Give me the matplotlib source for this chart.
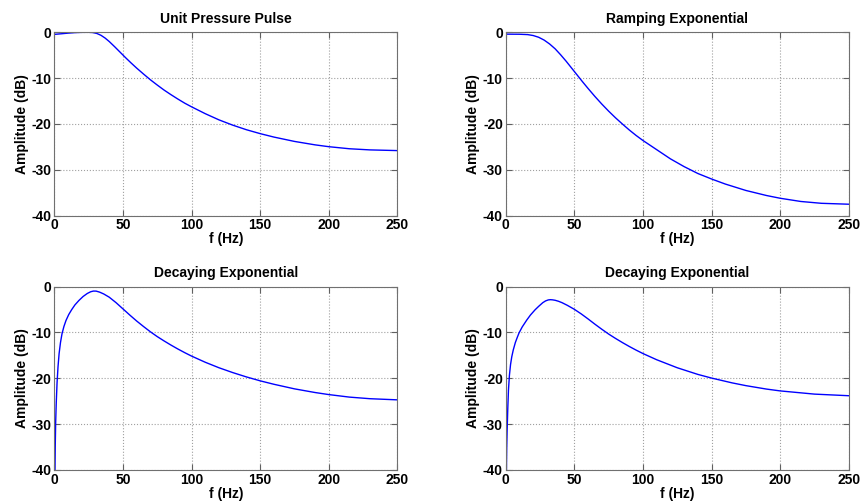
import matplotlib
matplotlib.use('Agg')
import matplotlib.pyplot as plt

plt.rcParams['font.family'] = ['Liberation Sans', 'DejaVu Sans']
plt.rcParams['font.weight'] = 'bold'
plt.rcParams['axes.unicode_minus'] = False

# values (f in Hz, amplitude in dB)
pulse_f = [0, 5, 10, 15, 20, 25, 28, 31, 34, 37, 40, 44, 48, 52, 56, 60, 65, 70, 75, 80, 85,
           90, 95, 100, 110, 120, 130, 140, 150, 160, 175, 190, 200, 215, 230, 250]
pulse_db = [-0.45, -0.32, -0.18, -0.07, -0.01, 0.0, -0.05, -0.25, -0.65, -1.25, -2.0, -3.15,
            -4.35, -5.55, -6.7, -7.8, -9.1, -10.35, -11.5, -12.6, -13.6, -14.55, -15.45,
            -16.25, -17.75, -19.1, -20.25, -21.25, -22.1, -22.85, -23.8, -24.55, -24.95,
            -25.4, -25.65, -25.8]

ramp_f = [0, 10, 16, 20, 24, 28, 32, 36, 40, 44, 48, 52, 56, 60, 65, 70, 75, 80, 85, 90, 95,
          100, 110, 120, 130, 140, 150, 160, 175, 190, 200, 215, 230, 250]
ramp_db = [-0.4, -0.42, -0.5, -0.7, -1.08, -1.7, -2.55, -3.6, -4.9, -6.3, -7.8, -9.3, -10.8,
           -12.25, -14.0, -15.65, -17.2, -18.65, -20.0, -21.3, -22.5, -23.6, -25.6, -27.6,
           -29.3, -30.8, -32.0, -33.1, -34.5, -35.6, -36.2, -36.9, -37.3, -37.5]

decay1_f = [0.5, 0.7, 1.0, 1.4, 2.0, 2.7, 3.5, 4.5, 5.6, 7, 8.5, 10.5, 12.6, 15, 18, 21, 24,
            26.5, 28.5, 30.5, 33, 36, 40, 45, 50, 55, 60, 65, 70, 75, 80, 85, 90, 95, 100,
            110, 120, 130, 140, 150, 160, 175, 190, 200, 215, 230, 250]
decay1_db = [-40, -34.5, -29.5, -25.5, -21.0, -17.5, -14.6, -12.2, -10.3, -8.7, -7.4, -6.1,
             -5.05, -4.0, -3.0, -2.15, -1.5, -1.12, -0.97, -0.98, -1.2, -1.6, -2.3, -3.5,
             -4.85, -6.2, -7.5, -8.7, -9.85, -10.9, -11.85, -12.75, -13.6, -14.4, -15.15,
             -16.5, -17.7, -18.75, -19.7, -20.55, -21.3, -22.3, -23.1, -23.55, -24.1, -24.45,
             -24.7]

decay2_f = [0.5, 0.7, 1.0, 1.5, 2.0, 2.7, 3.5, 4.4, 5.5, 7, 8.5, 9.7, 12, 15.3, 18, 21.4, 24,
            27, 29, 31, 32.5, 34, 36, 38.5, 41, 45, 50, 55, 60, 65, 70, 75, 80, 85, 90, 95,
            100, 110, 125, 140, 150, 165, 175, 190, 200, 225, 250]
decay2_db = [-40, -35.5, -31.5, -26.5, -22.5, -19.3, -17.0, -15.3, -13.8, -12.2, -11.0, -10.1,
             -8.8, -7.3, -6.2, -5.05, -4.3, -3.5, -3.12, -2.9, -2.85, -2.88, -2.98, -3.2,
             -3.5, -4.1, -4.95, -5.95, -7.05, -8.2, -9.3, -10.35, -11.3, -12.2, -13.05,
             -13.85, -14.6, -15.95, -17.7, -19.15, -19.95, -21.0, -21.6, -22.35, -22.75,
             -23.45, -23.8]

titles = ['Unit Pressure Pulse', 'Ramping Exponential', 'Decaying Exponential', 'Decaying Exponential']
x_ticks = [0, 50, 100, 150, 200, 250]
y_ticks = [0, -10, -20, -30, -40]

series = [(pulse_f, pulse_db), (ramp_f, ramp_db), (decay1_f, decay1_db), (decay2_f, decay2_db)]
boxes = [[0.063, 0.5695, 0.398, 0.366], [0.5867, 0.5695, 0.398, 0.366],
         [0.063, 0.0619, 0.398, 0.366], [0.5867, 0.0619, 0.398, 0.366]]

fig = plt.figure(figsize=(8.62, 5.01), dpi=100)

for (f, db), box, title in zip(series, boxes, titles):
    ax = fig.add_axes(box)
    ax.plot(f, db, color='#0000ff', linewidth=1.0)
    ax.set_xlim(0, 250)
    ax.set_ylim(-40, 0)
    ax.set_xticks(x_ticks)
    ax.set_yticks(y_ticks)
    ax.grid(True, linestyle=':', color='#a0a0a0', linewidth=0.8)
    ax.tick_params(direction='in', top=True, right=True, length=4, color='#606060',
                   labelsize=10, pad=2)
    for lbl in ax.get_xticklabels() + ax.get_yticklabels():
        lbl.set_fontweight('bold')
    for sp in ax.spines.values():
        sp.set_color('#707070')
        sp.set_linewidth(0.8)
    ax.set_title(title, fontsize=10, fontweight='bold', pad=7)
    ax.set_xlabel('f (Hz)', fontsize=10, fontweight='bold', labelpad=0)
    ax.set_ylabel('Amplitude (dB)', fontsize=10, fontweight='bold', labelpad=2)

fig.savefig('out.png', dpi=100)
